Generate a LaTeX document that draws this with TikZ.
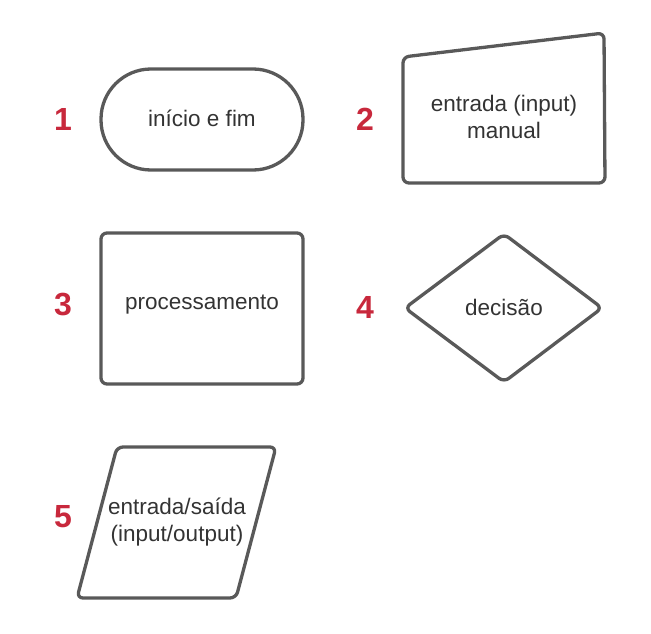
\documentclass[tikz,border=0pt]{standalone}
\usepackage{fontspec}
\setmainfont{Liberation Sans}
\definecolor{shapegray}{HTML}{595959}
\definecolor{txtgray}{HTML}{333333}
\definecolor{numred}{HTML}{C8283C}
\begin{document}
\begin{tikzpicture}[x=1pt,y=-1pt,
  shapeline/.style={draw=shapegray,line width=3.3pt,line join=round},
  lbl/.style={text=txtgray,font=\fontsize{22.5}{27.5}\selectfont,align=center,inner sep=0pt},
  num/.style={text=numred,font=\fontsize{32}{32}\selectfont\bfseries,inner sep=0pt}]
\useasboundingbox (0,0) rectangle (651,634);
% 1 terminal
\draw[shapeline,rounded corners=50pt] (101,69) rectangle (303,170);
\node[lbl] (t1) at (202,118) {início e fim};
\node[num] (n1) at (63,119) {1};
% 2 manual input
\draw[shapeline,rounded corners=6pt] (403,57) -- (604,33) -- (605,183) -- (403,183) -- cycle;
\node[lbl] (t2) at (504,117) {entrada (input)\\manual};
\node[num] (n2) at (365,119) {2};
% 3 process
\draw[shapeline,rounded corners=6pt] (101,233) rectangle (303,384);
\node[lbl] (t3) at (202,305) {processamento};
\node[num] (n3) at (63,305) {3};
% 4 decision
\draw[shapeline,rounded corners=6pt] (405,308) -- (504,234) -- (602,308) -- (504,382) -- cycle;
\node[lbl] (t4) at (504,307) {decisão};
\node[num] (n4) at (365,307) {4};
% 5 input/output
\draw[shapeline,rounded corners=6pt] (117,447) -- (276,447) -- (236,598) -- (77,598) -- cycle;
\node[lbl] (t5) at (177,522) {entrada/saída\\(input/output)};
\node[num] (n5) at (63,517) {5};
\end{tikzpicture}
\end{document}
